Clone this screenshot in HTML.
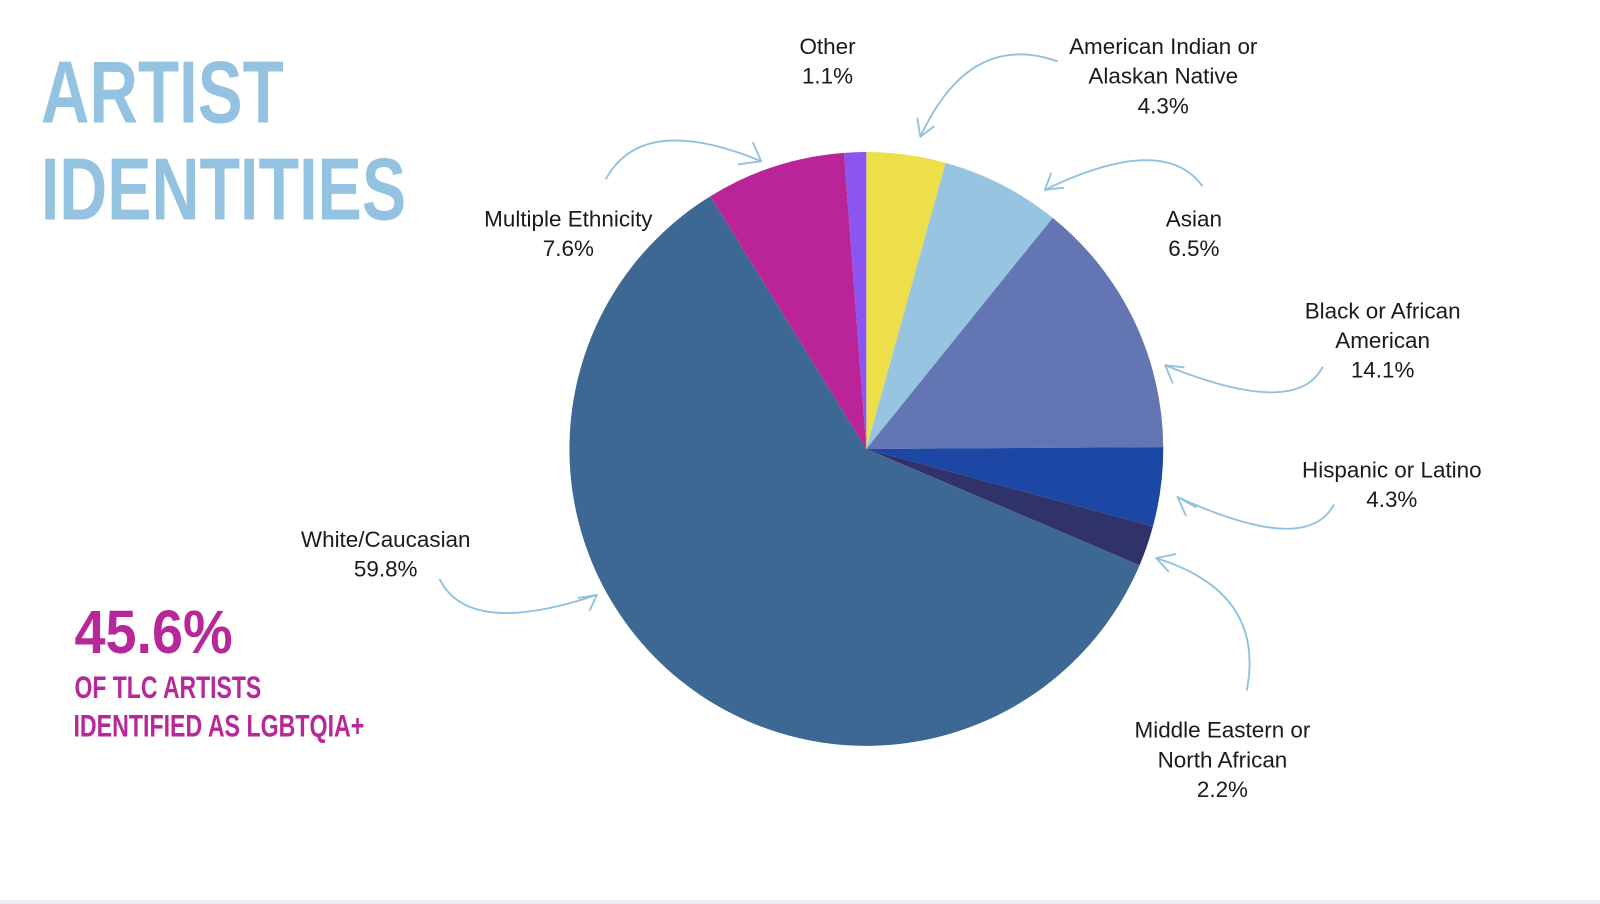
<!DOCTYPE html>
<html><head><meta charset="utf-8"><style>
html,body{margin:0;padding:0;background:#fff;}
svg{display:block;}
.l{font-family:"Liberation Sans",sans-serif;font-size:22px;fill:#1a1a1a;text-anchor:middle;}
.a{fill:none;stroke:#8fc1e0;stroke-width:1.8;stroke-linecap:round;}
.t{font-family:"Liberation Sans Narrow","Liberation Sans",sans-serif;font-weight:bold;}
</style></head><body>
<svg width="1600" height="904" viewBox="0 0 1600 904" xmlns="http://www.w3.org/2000/svg">
<rect width="1600" height="904" fill="#fff"/>
<rect y="900" width="1600" height="4" fill="#ebebf0"/>
<g transform="scale(1.0204)">
<text class="t" x="40" y="120" font-size="86" fill="#93c3e0" textLength="238" lengthAdjust="spacingAndGlyphs">ARTIST</text>
<text class="t" x="40" y="215" font-size="86" fill="#93c3e0" textLength="358" lengthAdjust="spacingAndGlyphs">IDENTITIES</text>
<text class="t" x="73" y="640" font-size="60" fill="#b8279a" textLength="155" lengthAdjust="spacingAndGlyphs">45.6%</text>
<text class="t" x="73" y="684" font-size="31" fill="#b8279a" textLength="183" lengthAdjust="spacingAndGlyphs">OF TLC ARTISTS</text>
<text class="t" x="72" y="722" font-size="31" fill="#b8279a" textLength="285" lengthAdjust="spacingAndGlyphs">IDENTIFIED AS LGBTQIA+</text>
<g>
<path d="M849,440 L849,149 A291,291 0 0 1 926.7,159.6 Z" fill="#ecdf4a"/>
<path d="M849,440 L926.7,159.6 A291,291 0 0 1 1031.7,213.5 Z" fill="#96c4e1"/>
<path d="M849,440 L1031.7,213.5 A291,291 0 0 1 1140,438.2 Z" fill="#6375b3"/>
<path d="M849,440 L1140,438.2 A291,291 0 0 1 1129.9,515.9 Z" fill="#1d47a4"/>
<path d="M849,440 L1129.9,515.9 A291,291 0 0 1 1116.8,553.9 Z" fill="#30336a"/>
<path d="M849,440 L1116.8,553.9 A291,291 0 1 1 696.2,192.3 Z" fill="#3d6893"/>
<path d="M849,440 L696.2,192.3 A291,291 0 0 1 827.1,149.8 Z" fill="#bb2498"/>
<path d="M849,440 L827.1,149.8 A291,291 0 0 1 849,149 Z" fill="#8b55f0"/>
</g>
<text class="l" x="811" y="53">Other</text><text class="l" x="811" y="82">1.1%</text>
<text class="l" x="1140" y="53">American Indian or</text><text class="l" x="1140" y="82">Alaskan Native</text><text class="l" x="1140" y="111">4.3%</text>
<text class="l" x="1170" y="222">Asian</text><text class="l" x="1170" y="251">6.5%</text>
<text class="l" x="1355" y="312">Black or African</text><text class="l" x="1355" y="341">American</text><text class="l" x="1355" y="370">14.1%</text>
<text class="l" x="1364" y="468">Hispanic or Latino</text><text class="l" x="1364" y="497">4.3%</text>
<text class="l" x="1198" y="723">Middle Eastern or</text><text class="l" x="1198" y="752">North African</text><text class="l" x="1198" y="781">2.2%</text>
<text class="l" x="378" y="536">White/Caucasian</text><text class="l" x="378" y="565">59.8%</text>
<text class="l" x="557" y="222">Multiple Ethnicity</text><text class="l" x="557" y="251">7.6%</text>
<path class="a" d="M594,175 Q630,110 746,158 M746,158 L738,140 M746,158 L724,161"/>
<path class="a" d="M1036,60 Q950,30 902,134 M902,134 L915,124 M902,134 L899,116"/>
<path class="a" d="M1178,182 Q1140,130 1024,186 M1024,186 L1030,170 M1024,186 L1042,184"/>
<path class="a" d="M1296,360 Q1270,410 1142,358 M1142,358 L1160,360 M1142,358 L1149,375"/>
<path class="a" d="M1307,495 Q1280,545 1154,487 M1154,487 L1172,497 M1154,487 L1162,505"/>
<path class="a" d="M1222,676 Q1240,580 1133,547 M1133,547 L1145,560 M1133,547 L1152,543"/>
<path class="a" d="M431,568 Q460,625 585,583 M585,583 L567,586 M585,583 L578,598"/>
</g>
</svg>
</body></html>
